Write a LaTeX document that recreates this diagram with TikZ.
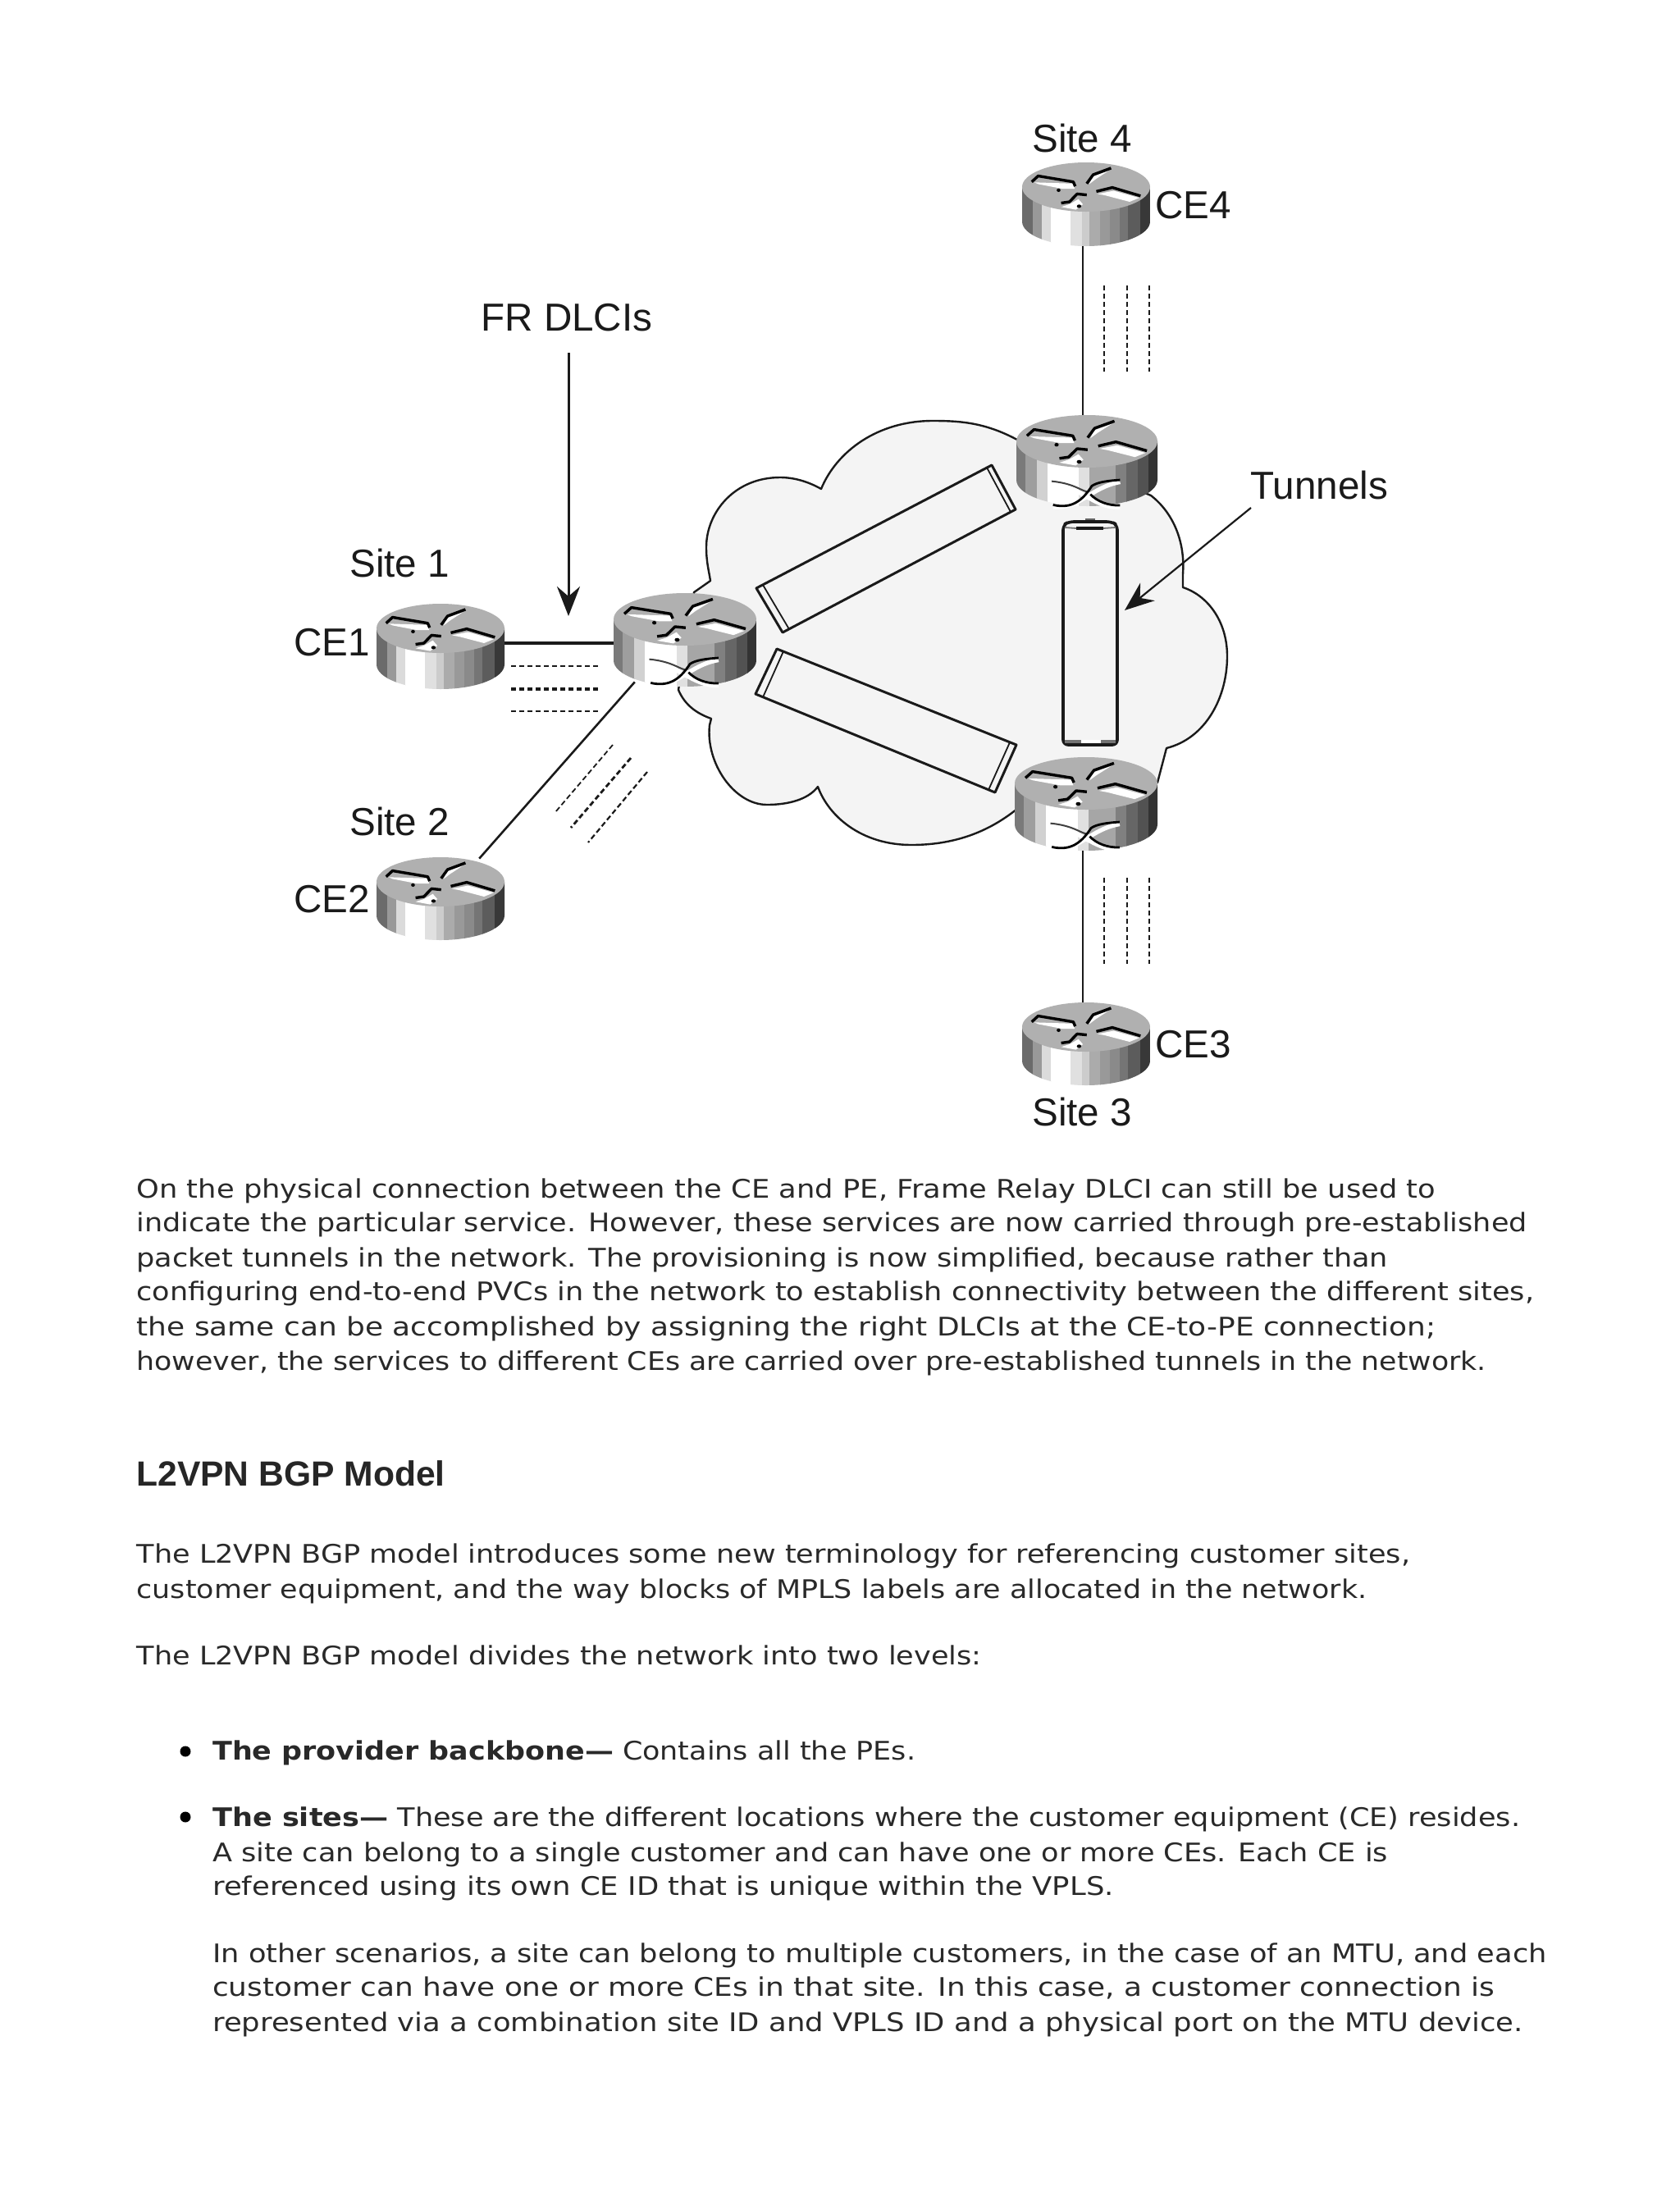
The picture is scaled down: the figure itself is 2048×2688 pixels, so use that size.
\documentclass[tikz,border=0pt]{standalone}
\usepackage{fontspec}
\usepackage{graphicx}
\setmainfont{DejaVu Sans}
\newfontfamily\labfont{Liberation Sans}
\usetikzlibrary{arrows.meta}
\definecolor{cloudfill}{HTML}{F4F4F4}
\definecolor{inkc}{HTML}{1A1A1A}
\tikzset{
  lab/.style={anchor=base west,inner sep=0pt,text=inkc,font=\labfont\fontsize{23.8}{28}\selectfont},
  bodytext/.style={anchor=base west,inner sep=0pt,text=black!84,font=\fontsize{15.6}{20}\selectfont},
  heading/.style={anchor=base west,inner sep=0pt,text=black!85,font=\labfont\bfseries\fontsize{21.3}{26}\selectfont},
  spot/.style={inner sep=0pt,minimum size=1pt},
  link/.style={draw=inkc,line width=1.7pt},
  dashline/.style={draw=inkc,line width=1.4pt,dash pattern=on 3.2pt off 1.8pt},
  tube/.style={draw=inkc,fill=cloudfill,line width=1.5pt,line join=round},
  sliver/.style={draw=inkc,line width=.9pt},
  pointer/.style={draw=inkc,line width=1.5pt,-{Stealth[length=18pt,width=14pt,inset=6pt]}},
  glyph/.style={draw=black,line width=1.7pt,line join=round},
  glyphbg/.style={fill=white,draw=none}
}
% #1 cx, #2 cy, #3 rx, #4 ry, #5 h, #6 = 1 for the PE router with the crossing arrows
\newcommand{\routerdraw}[6]{%
  \begin{scope}[shift={(#1,#2)},x=#3*0.5pt,y=-#4*0.5pt]
    \pgfmathsetmacro{\hh}{#5/#4}
    \begin{scope}
      \clip (-1,0) -- (-1,\hh) .. controls (-1,\hh+.5523) and (-.5523,\hh+1) .. (0,\hh+1)
         .. controls (.5523,\hh+1) and (1,\hh+.5523) .. (1,\hh) -- (1,0) -- cycle;
      \ifnum#6=1
        \foreach \a/\b/\c in {-1/-.87/52,-.87/-.71/38,-.71/-.56/18,-.56/-.12/0,-.12/.03/12,.03/.41/35,.41/.56/50,.56/.72/60,.72/.87/68,.87/1/80}
          {\fill[black!\c!white] (\a,-.1) rectangle (\b+.01,\hh+1.1);}
      \else
        \foreach \a/\b/\c in {-1/-.835/58,-.835/-.69/40,-.69/-.55/14,-.55/-.25/0,-.25/-.07/12,-.07/.05/20,.05/.22/33,.22/.37/40,.37/.52/46,.52/.66/54,.66/.84/64,.84/1/78}
          {\fill[black!\c!white] (\a,-.1) rectangle (\b+.01,\hh+1.1);}
      \fi
    \end{scope}
    \fill[black!31!white] (0,0) ellipse [x radius=1,y radius=1];
    \fill[glyphbg] (-.81,-.19) -- (-.2,-.14) -- (-.18,.07) -- (-.37,.07) -- (-.75,-.12) -- cycle;
    \draw[glyph] (-.85,-.21) -- (-.75,-.45) -- (-.2,-.21) -- (-.17,-.03);
    \fill[black] (-.43,.13) circle [x radius=.03,y radius=.07];
    \fill[glyphbg] (.1,-.42) -- (.35,-.66) -- (.15,-.32) -- (.05,-.12) -- cycle;
    \draw[glyph] (.01,-.14) -- (.11,-.5) -- (.39,-.77);
    \fill[glyphbg] (.18,.28) -- (.43,.15) -- (.83,.44) -- (.68,.6) -- (.3,.34) -- cycle;
    \draw[glyph] (.16,.18) -- (.41,.02) -- (.85,.36);
    \fill[glyphbg] (-.39,.81) -- (-.16,.92) -- (-.05,.7) -- (-.12,.49) -- (-.26,.7) -- cycle;
    \draw[glyph] (-.39,.65) -- (-.26,.6) -- (-.14,.28) -- (.01,.32);
    \fill[black] (-.11,.78) circle [x radius=.035,y radius=.07];
    \ifnum#6=1
      \draw[white,line width=2.6pt] (-.48,2.5) .. controls (-.1,2.6) and (.05,1.75) .. (.47,1.55);
      \draw[white,line width=2.6pt] (-.5,1.6) .. controls (-.1,1.7) and (.1,2.55) .. (.47,2.52);
      \draw[black!75,line width=1pt] (-.5,1.52) .. controls (-.2,1.6) and (-.1,1.85) .. (.0,1.92);
      \draw[black,line width=1.4pt] (.05,2.02) .. controls (.15,2.3) and (.3,2.45) .. (.47,2.44);
      \draw[black,line width=1.4pt] (-.48,2.42) .. controls (-.2,2.6) and (-.05,2.2) .. (.07,1.7) .. controls (.15,1.55) and (.3,1.5) .. (.47,1.47);
    \fi
  \end{scope}%
}
% #1 name, #2 x start (reference scale), #3 x end, #4 y, #5 text
\newcommand{\bodyline}[5]{%
  \pgfmathsetlengthmacro{\wid}{(#3-#2)*1.7138*0.5pt}%
  \node[bodytext] (#1) at ({#2*1.7138},{(#4+6.7)*1.7143}) {\resizebox{\wid}{\height}{#5}};%
}
\begin{document}
\begin{tikzpicture}[x=0.5pt,y=-0.5pt]
\useasboundingbox (0,0) rectangle (2048,2688);
\fill[white] (0,0) rectangle (2048,2688);

% cloud
\path[draw=inkc,fill=cloudfill,line width=1.2pt,line join=round]
  (1238,535) .. controls (1200,515) and (1170,513) .. (1137,513)
  .. controls (1070,513) and (1020,550) .. (1001,596)
  .. controls (985,587) and (968,582) .. (951,582)
  .. controls (895,582) and (861,625) .. (861,667)
  .. controls (861,685) and (864,695) .. (866,708)
  -- (846,722) -- (827,841)
  .. controls (835,860) and (850,870) .. (867,876)
  -- (865,884)
  .. controls (860,930) and (895,981) .. (935,981)
  .. controls (960,981) and (985,975) .. (997,959)
  .. controls (1010,995) and (1050,1030) .. (1111,1030)
  .. controls (1170,1030) and (1210,1010) .. (1240,986)
  -- (1411,954) -- (1422,912)
  .. controls (1470,900) and (1496,850) .. (1496,800)
  .. controls (1496,755) and (1470,725) .. (1442,716)
  -- (1442,700)
  .. controls (1445,660) and (1430,625) .. (1403,604)
  -- cycle;

% anchors of the routers
\node[spot] (ce1) at (537,784) {};
\node[spot] (pe1) at (835,784) {};
\node[spot] (ce2) at (583,1048) {};
\node[spot] (pe1s) at (775,830) {};
\node[spot] (ce4) at (1320,260) {};
\node[spot] (pe4) at (1320,560) {};
\node[spot] (pe3) at (1320,1000) {};
\node[spot] (ce3) at (1320,1270) {};

% connectors
\draw[link] (ce1) -- (pe1);
\draw[link,line width=1.3pt] (pe1s) -- (ce2);
\draw[link,line width=1.3pt] (ce4) -- (pe4);
\draw[link,line width=1.3pt] (pe3) -- (ce3);

% dashed circuits
\draw[dashline,line width=1pt] (623,812) -- (729,812);
\draw[dashline,line width=1.7pt] (623,840) -- (729,840);
\draw[dashline,line width=1.3pt] (623,867) -- (729,867);
\draw[dashline,line width=.9pt] (747,908) -- (677,990);
\draw[dashline] (769,924) -- (696,1009);
\draw[dashline,line width=1.1pt] (789,941) -- (717,1027);
\foreach \x in {1346,1374,1401} \draw[dashline] (\x,348) -- (\x,453);
\foreach \x in {1346,1374,1401} \draw[dashline] (\x,1070) -- (\x,1175);

% tunnels
\draw[tube] (1209,567) -- (922,717) -- (954,771) -- (1238,621) -- cycle;
\draw[sliver] (1203,570) -- (1232,624);
\draw[sliver] (930,713) -- (962,767);
\draw[tube] (947,791) -- (921,846) -- (1213,966) -- (1239,908) -- cycle;
\draw[sliver] (955,794) -- (930,850);
\draw[sliver] (1231,905) -- (1205,963);
\draw[tube,line width=1.8pt,rounded corners=3pt] (1296,640) -- (1303,636) -- (1355,636) -- (1362,640) -- (1362,908) -- (1296,908) -- cycle;
\draw[inkc,line width=1.6pt] (1312,644) -- (1345,644);
\draw[black!55,line width=.9pt] (1298,643) -- (1312,644);
\draw[black!55,line width=.9pt] (1345,644) -- (1360,643);
\draw[black!60,line width=1.4pt] (1323,633) -- (1335,633);
\draw[black!55,line width=2.4pt] (1298,904) -- (1360,904);
\draw[white,line width=2pt] (1318,904) -- (1342,904);

% routers
\routerdraw{537}{766}{78}{30}{44}{0}
\routerdraw{835}{755}{87}{32}{50}{1}
\routerdraw{537}{1075}{78}{30}{41}{0}
\routerdraw{1324}{228}{78}{30}{42}{0}
\routerdraw{1325}{538}{86}{32}{47}{1}
\routerdraw{1324}{955}{87}{32}{50}{1}
\routerdraw{1324}{1252}{78}{30}{41}{0}

% labels
\node[lab] (site1) at (426,703) {Site 1};
\node[lab] (site2) at (426,1018) {Site 2};
\node[lab] (site3) at (1258,1372) {Site 3};
\node[lab] (site4) at (1258,185) {Site 4};
\node[lab] (lce1) at (358,799) {CE1};
\node[lab] (lce2) at (358,1112) {CE2};
\node[lab] (lce3) at (1408,1289) {CE3};
\node[lab] (lce4) at (1408,266) {CE4};
\node[lab] (frlab) at (586,403) {FR DLCIs};
\node[lab] (tunlab) at (1524,608) {Tunnels};

% pointers
\coordinate (frtail) at (693,430);
\coordinate (frtip) at (693,751);
\coordinate (tuntail) at (1525,619);
\coordinate (tuntip) at (1371,744);
\draw[pointer] (frtail) -- (frtip);
\draw[pointer,line width=1.1pt] (tuntail) -- (tuntip);

% text
\bodyline{p1}{97}{1021}{845}{On the physical connection between the CE and PE, Frame Relay DLCI can still be used to}
\bodyline{p2}{97}{1086}{869}{indicate the particular service. However, these services are now carried through pre-established}
\bodyline{p3}{97}{987}{894}{packet tunnels in the network. The provisioning is now simplified, because rather than}
\bodyline{p4}{97}{1091}{918}{configuring end-to-end PVCs in the network to establish connectivity between the different sites,}
\bodyline{p5}{97}{1021}{943}{the same can be accomplished by assigning the right DLCIs at the CE-to-PE connection;}
\bodyline{p6}{97}{1057}{968}{however, the services to different CEs are carried over pre-established tunnels in the network.}
\node[heading] (head) at (166,{(1048+8.5)*1.7143}) {L2VPN BGP Model};
\bodyline{q1}{97}{1003}{1105}{The L2VPN BGP model introduces some new terminology for referencing customer sites,}
\bodyline{q2}{97}{972}{1130}{customer equipment, and the way blocks of MPLS labels are allocated in the network.}
\bodyline{q3}{97}{698}{1177}{The L2VPN BGP model divides the network into two levels:}
\fill[black] (226,2135) circle (6.5);
\fill[black] (226,2215) circle (6.5);
\bodyline{b1}{151}{651}{1245}{{\bfseries The provider backbone—} Contains all the PEs.}
\bodyline{b2}{151}{1081}{1292}{{\bfseries The sites—} These are the different locations where the customer equipment (CE) resides.}
\bodyline{b3}{151}{987}{1317}{A site can belong to a single customer and can have one or more CEs. Each CE is}
\bodyline{b4}{151}{792}{1341}{referenced using its own CE ID that is unique within the VPLS.}
\bodyline{c1}{151}{1100}{1389}{In other scenarios, a site can belong to multiple customers, in the case of an MTU, and each}
\bodyline{c2}{151}{1063}{1413}{customer can have one or more CEs in that site. In this case, a customer connection is}
\bodyline{c3}{151}{1083}{1438}{represented via a combination site ID and VPLS ID and a physical port on the MTU device.}
\end{tikzpicture}
\end{document}
